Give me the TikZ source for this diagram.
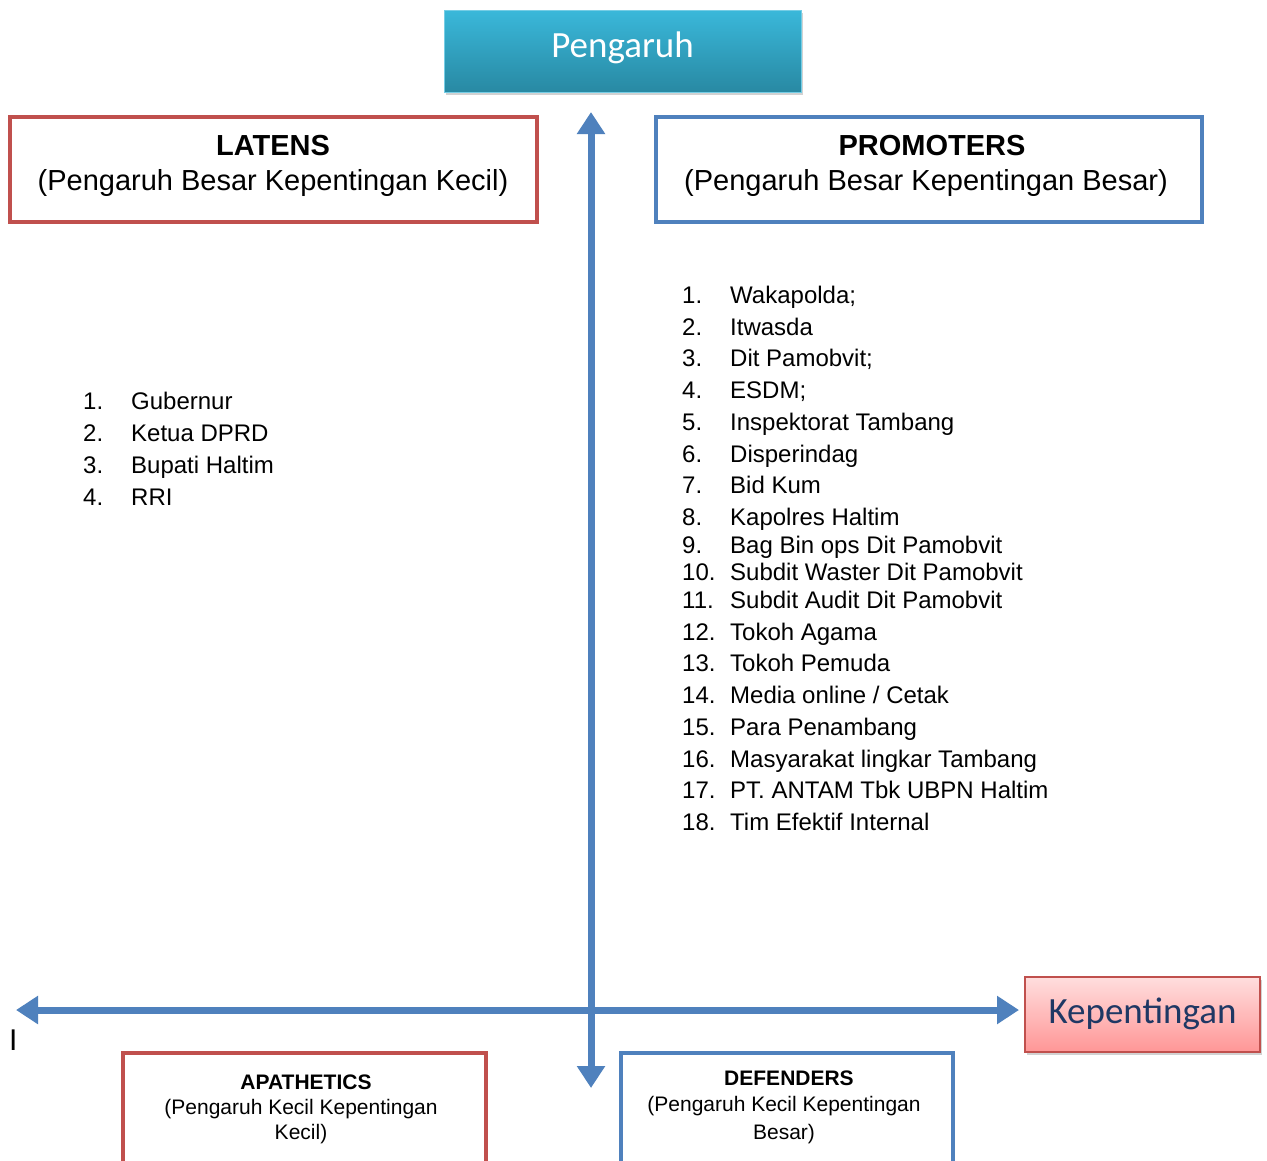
\documentclass[tikz,border=0pt]{standalone}
\usepackage{fontspec}
\setmainfont{Liberation Sans}
\newfontfamily\calibri{Carlito}
\usepackage{xcolor}
\usetikzlibrary{arrows.meta,shadows}

\definecolor{axisblue}{RGB}{79,129,189}
\definecolor{boxred}{RGB}{192,80,77}
\definecolor{tealtop}{RGB}{58,184,218}
\definecolor{tealbot}{RGB}{40,137,163}
\definecolor{pinktop}{RGB}{255,222,222}
\definecolor{pinkbot}{RGB}{255,150,150}
\definecolor{navytext}{RGB}{31,56,100}

\tikzset{
  axis/.style={draw=axisblue, line width=7pt,
    {Triangle[width=27pt,length=22pt]}-{Triangle[width=27pt,length=22pt]}},
  redbox/.style={draw=boxred, line width=4pt, fill=white},
  bluebox/.style={draw=axisblue, line width=4pt, fill=white},
  item/.style={anchor=base west, inner sep=0pt, font=\fontsize{24}{28}\selectfont},
  head/.style={anchor=base, inner sep=0pt, font=\fontsize{29}{34}\selectfont},
  small/.style={anchor=base, inner sep=0pt, font=\fontsize{21}{25}\selectfont}
}

\begin{document}
\begin{tikzpicture}[x=1pt,y=-1pt]
\clip (0,0) rectangle (1267,1160);
\fill [white] (0,0) rectangle (1267,1160);

% axes
\coordinate (up) at (591,112);
\coordinate (down) at (591,1088);
\coordinate (west) at (16,1010);
\coordinate (east) at (1019,1010);
\draw [axis] (down) -- (up);
\draw [axis] (west) -- (east);

% title boxes
\draw [drop shadow={shadow xshift=2pt,shadow yshift=-3pt,opacity=0.35}, top color=tealtop, bottom color=tealbot, draw=tealtop!70!white, line width=1pt]
  (444,10) rectangle (801,92);
\node (pengaruh) [inner sep=0pt, text=white, font=\calibri\fontsize{37}{40}\selectfont] at (622.5,48) {Pengaruh};
\draw [drop shadow={shadow xshift=2pt,shadow yshift=-3pt,opacity=0.35}, top color=pinktop, bottom color=pinkbot, draw=boxred, line width=2pt]
  (1025,977) rectangle (1260,1052);
\node (kepentingan) [inner sep=0pt, text=navytext, font=\calibri\fontsize{37}{40}\selectfont] at (1142.5,1014) {Kepentingan};

% quadrant boxes
\draw [redbox] (10,117) rectangle (537,222);
\node (latens) [head, font=\bfseries\fontsize{29}{34}\selectfont] at (273,155) {LATENS};
\node (latenssub) [head] at (273,190) {(Pengaruh Besar Kepentingan Kecil)};
\draw [bluebox] (656,117) rectangle (1202,222);
\node (promoters) [head, font=\bfseries\fontsize{29}{34}\selectfont] at (932,155) {PROMOTERS};
\node (promoterssub) [head] at (926,190) {(Pengaruh Besar Kepentingan Besar)};

\draw [redbox] (123,1053) rectangle (486,1175);
\node (apathetics) [small, font=\bfseries\fontsize{21}{25}\selectfont] at (306,1089) {APATHETICS};
\node (apatheticssub) [small] at (301,1114) {(Pengaruh Kecil Kepentingan};
\node (apatheticssub2) [small] at (301,1139) {Kecil)};
\draw [bluebox] (621,1053) rectangle (953,1175);
\node (defenders) [small, font=\bfseries\fontsize{21}{25}\selectfont] at (789,1085) {DEFENDERS};
\node (defenderssub) [small] at (784,1111) {(Pengaruh Kecil Kepentingan};
\node (defenderssub2) [small] at (784,1139) {Besar)};

% lists
\foreach \n/\t/\y in {1/Gubernur/401, 2/Ketua DPRD/433, 3/Bupati Haltim/465, 4/RRI/497} {
  \node (ln\n) [item] at (83,\y+8) {\n.};
  \node (l\n) [item] at (131,\y+8) {\t};
}
\foreach \n/\t/\y in {1/Wakapolda;/295, 2/Itwasda/327, 3/Dit Pamobvit;/358, 4/ESDM;/390,
  5/Inspektorat Tambang/422, 6/Disperindag/454, 7/Bid Kum/485, 8/Kapolres Haltim/517,
  9/Bag Bin ops Dit Pamobvit/545, 10/Subdit Waster Dit Pamobvit/572,
  11/Subdit Audit Dit Pamobvit/600, 12/Tokoh Agama/632, 13/Tokoh Pemuda/663,
  14/{Media online / Cetak}/695, 15/Para Penambang/727, 16/Masyarakat lingkar Tambang/759,
  17/PT. ANTAM Tbk UBPN Haltim/790, 18/Tim Efektif Internal/822} {
  \node (rn\n) [item] at (682,\y+8) {\n.};
  \node (r\n) [item] at (730,\y+8) {\t};
}

\node (stray) [item, font=\fontsize{30}{34}\selectfont] at (9,1050) {I};
\end{tikzpicture}
\end{document}
